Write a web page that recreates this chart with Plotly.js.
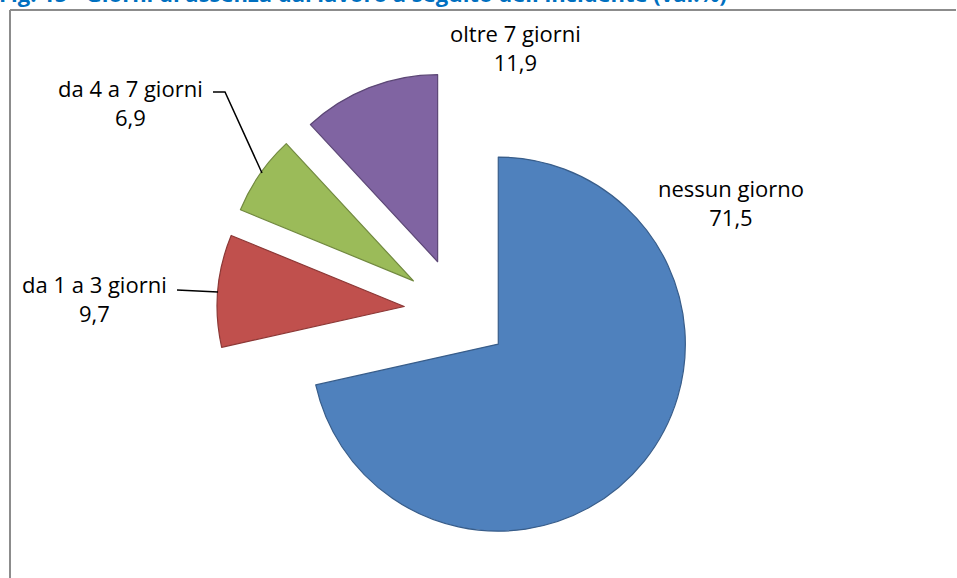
<!DOCTYPE html>
<html>
<head>
<meta charset="utf-8">
<script src="https://cdn.plot.ly/plotly-3.0.1.min.js"></script>
<style>html,body{margin:0;padding:0;background:#fff;}#chart{width:957px;height:578px;}</style>
</head>
<body>
<div id="chart"></div>
<script>
// ---- data ----
var categories = ["nessun giorno", "da 1 a 3 giorni", "da 4 a 7 giorni", "oltre 7 giorni"];
var values = [71.5, 9.7, 6.9, 11.9];
var sliceColors = ["#4F81BD", "#C0504D", "#9BBB59", "#8064A2"];
var edgeColors = ["#385D8A", "#8C3836", "#71893F", "#5C4776"];
var titleText = "Fig. 15 - Giorni di assenza dal lavoro a seguito dell'incidente (val.%)";

// ---- helpers ----
var W = 957, H = 578;
function px(x) { return x / W; }
function py(y) { return 1 - y / H; }
function fmt(v) { return v.toFixed(1).replace('.', ','); }

var pullAll = categories.map(function () { return 0.283; });

var trace = {
  type: 'pie',
  labels: categories,
  values: values,
  sort: false,
  direction: 'clockwise',
  rotation: 0,
  pull: pullAll,
  textinfo: 'none',
  hoverinfo: 'label+value',
  showlegend: false,
  marker: { colors: sliceColors, line: { color: edgeColors, width: 1.2 } },
  domain: { x: [0.1, 0.855], y: [0.04671, 0.87716] }
};

// label placements (pixel centers)
var labelPos = [[731, 203], [94, 298], [130, 102], [515, 47]];
var font = { family: "'Open Sans', 'Liberation Sans', sans-serif", size: 22, color: '#000' };

var annotations = categories.map(function (c, i) {
  return {
    xref: 'paper', yref: 'paper',
    x: px(labelPos[i][0]), y: py(labelPos[i][1]),
    xanchor: 'center', yanchor: 'middle',
    text: c + '<br>' + fmt(values[i]),
    showarrow: false, font: font, align: 'center'
  };
});

annotations.push({
  xref: 'paper', yref: 'paper',
  x: px(-3), y: py(10),
  xanchor: 'left', yanchor: 'bottom',
  text: '<b>' + titleText + '</b>',
  showarrow: false,
  font: { family: "'Open Sans', 'Liberation Sans', sans-serif", size: 22, color: '#0070C0' }
});

function pth(pts) {
  return pts.map(function (p, i) { return (i ? 'L ' : 'M ') + px(p[0]) + ',' + py(p[1]); }).join(' ');
}

var shapes = [
  // chart frame (top + left edges)
  { type: 'line', xref: 'paper', yref: 'paper', x0: px(10), y0: py(10), x1: px(956), y1: py(10), line: { color: '#8C8C8C', width: 2 } },
  { type: 'line', xref: 'paper', yref: 'paper', x0: px(10), y0: py(10), x1: px(10), y1: py(580), line: { color: '#8C8C8C', width: 2 } },
  // leader lines
  { type: 'path', xref: 'paper', yref: 'paper', path: pth([[213, 92], [225, 92], [262, 173]]), line: { color: '#000', width: 1.5 } },
  { type: 'path', xref: 'paper', yref: 'paper', path: pth([[177, 290], [218, 292]]), line: { color: '#000', width: 1.5 } }
];

var layout = {
  width: W, height: H,
  margin: { l: 0, r: 0, t: 0, b: 0 },
  paper_bgcolor: '#fff', plot_bgcolor: '#fff',
  showlegend: false,
  annotations: annotations,
  shapes: shapes
};

Plotly.newPlot('chart', [trace], layout, { displayModeBar: false, staticPlot: true });
</script>
</body>
</html>
